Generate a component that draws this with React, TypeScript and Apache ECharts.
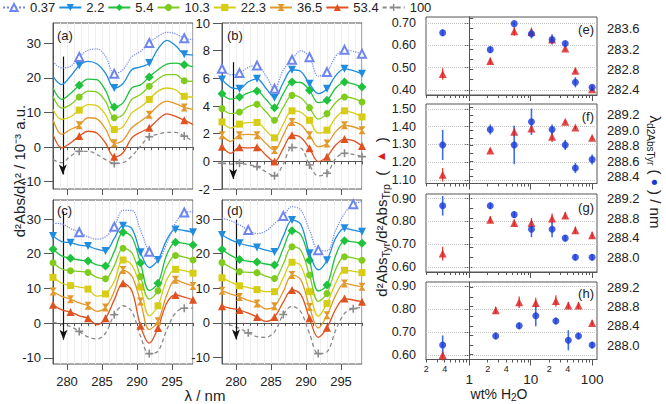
import React, { useEffect, useRef } from 'react';
import * as echarts from 'echarts';

const FONT = '"Liberation Sans", Arial, Helvetica, sans-serif';

const legendNames = ['0.37', '2.2', '5.4', '10.3', '22.3', '36.5', '53.4', '100'];
const wavelengthNm = [278, 279.25, 280.5, 281.75, 283, 284.25, 285.5, 286.75, 288, 289.25, 290.5, 291.75, 293, 294.25, 295.5, 296.75, 298];

const panelA = [
  [24.8, 22.9, 23.4, 26.1, 28.0, 28.4, 26.3, 21.2, 22.4, 26.1, 27.7, 30.1, 32.0, 33.2, 32.8, 31.5, 31.1],
  [20.5, 18.1, 20.5, 23.6, 24.8, 24.1, 21.4, 17.1, 18.4, 22.4, 23.2, 24.3, 28.4, 30.9, 29.4, 26.9, 26.7],
  [17.1, 13.8, 15.5, 17.9, 19.7, 19.5, 16.4, 11.6, 12.8, 17.1, 18.0, 20.3, 22.4, 24.0, 24.3, 23.8, 23.3],
  [14.7, 11.3, 12.3, 14.5, 16.2, 15.9, 13.3, 8.5, 9.4, 13.8, 15.2, 17.6, 19.7, 21.0, 21.0, 19.2, 19.0],
  [10.9, 8.0, 8.8, 10.7, 12.3, 12.0, 9.4, 5.1, 5.9, 9.9, 11.6, 13.8, 16.2, 17.1, 16.6, 14.7, 14.5],
  [8.0, 3.7, 5.1, 6.3, 8.5, 8.2, 5.3, 1.1, 2.0, 5.6, 7.5, 9.4, 12.0, 13.3, 12.6, 11.5, 10.9],
  [3.7, -0.2, 1.2, 3.2, 4.6, 4.1, 1.2, -2.8, -1.6, 2.7, 4.3, 5.6, 8.0, 9.6, 8.9, 7.8, 6.5],
  [-3.6, -4.5, -2.6, -1.2, -1.2, -2.1, -3.6, -4.7, -4.5, -2.6, 0.3, 3.0, 3.7, 4.3, 4.3, 3.2, 1.7],
];
const panelB = [
  [6.69, 6.25, 6.38, 6.80, 6.93, 6.20, 5.25, 6.60, 7.34, 8.00, 7.53, 6.15, 6.45, 7.60, 8.06, 7.95, 7.77],
  [5.92, 5.35, 5.25, 5.75, 5.97, 5.30, 4.60, 5.70, 6.62, 6.50, 5.61, 4.90, 5.25, 6.20, 6.69, 6.55, 6.33],
  [4.89, 4.50, 4.65, 4.95, 5.08, 4.50, 3.88, 4.90, 5.73, 5.70, 5.13, 4.25, 4.41, 5.30, 5.73, 5.60, 5.37],
  [3.81, 3.45, 3.57, 3.95, 4.12, 3.60, 2.97, 3.90, 4.77, 4.60, 3.88, 3.05, 3.45, 4.25, 4.65, 4.55, 4.29],
  [2.85, 2.40, 2.69, 2.80, 2.81, 2.25, 1.70, 2.70, 3.65, 3.55, 2.97, 2.05, 2.25, 3.15, 3.65, 3.50, 3.21],
  [1.89, 1.45, 1.89, 1.95, 1.89, 1.30, 0.82, 1.90, 2.85, 2.65, 1.89, 1.05, 1.29, 2.15, 2.61, 2.50, 2.25],
  [1.06, 0.58, 1.01, 0.98, 1.01, 0.46, -0.02, 0.94, 1.89, 1.73, 0.94, -0.02, 0.34, 1.18, 1.61, 1.49, 1.10],
  [-0.14, -0.20, -0.14, -0.25, -0.38, -0.75, -1.05, -0.20, 1.00, 0.95, -0.26, -1.05, -0.86, 0.20, 0.58, 0.50, 0.34],
];
const panelC = [
  [28.8, 28.6, 27.3, 26.2, 24.9, 24.2, 24.9, 27.8, 32.5, 32.5, 26.8, 20.6, 18.2, 23.0, 28.8, 31.9, 32.1],
  [25.1, 23.5, 23.2, 22.5, 22.2, 21.3, 20.8, 24.4, 28.1, 27.3, 20.4, 16.0, 18.2, 24.0, 27.0, 26.7, 26.2],
  [21.3, 19.4, 18.7, 18.2, 17.9, 16.8, 16.5, 20.6, 26.2, 24.9, 17.3, 9.4, 11.5, 19.7, 23.3, 23.0, 22.5],
  [17.4, 15.6, 15.1, 14.9, 14.6, 13.2, 12.8, 16.5, 21.6, 20.3, 13.4, 6.9, 9.3, 16.3, 19.5, 19.0, 18.2],
  [13.2, 11.5, 10.8, 10.4, 9.8, 7.8, 8.4, 12.0, 18.2, 16.8, 10.4, 2.1, 5.0, 12.5, 15.5, 15.1, 14.4],
  [9.1, 7.7, 6.9, 5.8, 5.0, 3.4, 4.5, 9.1, 15.3, 13.6, 6.2, -1.9, 0.5, 8.1, 12.5, 11.5, 10.7],
  [5.3, 3.8, 3.2, 2.1, 1.4, -0.5, 1.4, 6.7, 11.5, 9.4, -0.8, -5.8, -1.4, 5.8, 8.1, 7.5, 6.7],
  [0.2, -0.3, -1.0, -2.4, -4.0, -4.6, -2.9, 2.4, 5.0, 3.4, -3.8, -8.8, -8.1, -1.9, 2.9, 4.3, 4.3],
];
const panelD = [
  [30.2, 29.5, 28.3, 26.8, 25.8, 26.5, 28.7, 30.9, 33.6, 32.6, 26.8, 21.0, 20.8, 26.8, 31.6, 34.3, 35.0],
  [25.4, 24.0, 23.0, 22.3, 21.8, 21.0, 20.5, 25.0, 29.7, 28.5, 20.1, 15.3, 18.1, 24.5, 27.3, 26.8, 26.3],
  [21.2, 19.5, 18.3, 17.8, 17.6, 17.0, 16.7, 21.5, 26.6, 25.5, 18.1, 9.2, 10.9, 19.5, 23.7, 23.4, 23.0],
  [17.4, 16.0, 14.8, 14.6, 14.5, 13.5, 12.8, 17.0, 22.0, 21.0, 13.8, 6.2, 8.5, 15.5, 19.1, 18.8, 18.1],
  [13.0, 11.8, 10.7, 10.2, 9.6, 9.0, 9.0, 13.0, 17.5, 16.5, 9.0, 1.9, 5.6, 11.5, 15.2, 14.9, 14.5],
  [9.3, 8.3, 7.5, 6.5, 5.6, 4.0, 4.8, 9.0, 13.8, 12.5, 4.6, -1.5, 2.2, 8.0, 11.4, 10.9, 10.4],
  [4.8, 4.2, 3.7, 2.8, 1.7, 0.4, 1.7, 6.0, 9.5, 8.2, 1.3, -4.2, -1.4, 4.0, 7.0, 6.6, 6.1],
  [0.0, -0.7, -1.6, -2.9, -4.0, -4.2, -2.6, 2.4, 4.8, 3.2, -3.1, -8.9, -8.4, -2.1, 2.7, 4.1, 4.4],
];

const waterWt = [0.37, 2.2, 5.4, 10.3, 22.3, 36.5, 53.4, 100];
const waterWtH = [0.37, 2.7, 6.5, 12.1, 25.7, 41, 60, 100];

const ratioE = [0.472, 0.530, 0.663, 0.660, 0.626, 0.586, 0.487, 0.404];
const ratioEErr = [0.026, 0.015, 0.02, 0.02, 0.015, 0.01, 0.01, 0.008];
const lambdaE = [283.52, 283.19, 283.70, 283.50, 283.39, 283.31, 282.55, 282.45];
const lambdaEErr = [0.065, 0.06, 0.04, 0.09, 0.1, 0.04, 0.1, 0.04];

const ratioF = [1.129, 1.266, 1.372, 1.390, 1.344, 1.428, 1.395, 1.338];
const ratioFErr = [0.038, 0.01, 0.03, 0.03, 0.03, 0.01, 0.01, 0.01];
const lambdaF = [288.81, 289.01, 288.81, 289.11, 289.01, 288.81, 288.51, 288.62];
const lambdaFErr = [0.195, 0.065, 0.25, 0.17, 0.065, 0.065, 0.065, 0.065];

const ratioG = [0.658, 0.807, 0.793, 0.793, 0.812, 0.826, 0.761, 0.739];
const ratioGErr = [0.03, 0.015, 0.015, 0.022, 0.022, 0.015, 0.015, 0.015];
const lambdaG = [289.05, 289.05, 288.87, 288.57, 288.57, 288.39, 288.0, 288.0];
const lambdaGErr = [0.2, 0.065, 0.065, 0.16, 0.16, 0.065, 0.065, 0.065];

const ratioH = [0.60, 0.794, 0.829, 0.826, 0.834, 0.815, 0.815, 0.739];
const ratioHErr = [0.024, 0.015, 0.025, 0.022, 0.025, 0.015, 0.015, 0.012];
const lambdaH = [288.0, 288.19, 288.40, 288.61, 288.50, 288.10, 288.19, 288.0];
const lambdaHErr = [0.2, 0.07, 0.07, 0.22, 0.07, 0.21, 0.07, 0.07];

const specTickLabels = [280, 285, 290, 295];
const leftPanelYTicks = [-10, 0, 10, 20, 30];
const logLabelWt = [0.2, 0.4, 1, 2, 4, 10, 20, 40, 100];
const logLabelText = ['2', '4', '1', '2', '4', '10', '2', '4', '100'];
const logMinorWt = [0.2, 0.3, 0.4, 0.5, 0.6, 0.7, 0.8, 0.9, 2, 3, 4, 5, 6, 7, 8, 9, 20, 30, 40, 50, 60, 70, 80, 90];
const logMajorWt = [1, 10, 100];
const ratioTicks = [[0.4, 0.5, 0.6, 0.7], [1.1, 1.2, 1.3, 1.4, 1.5], [0.6, 0.7, 0.8, 0.9], [0.6, 0.7, 0.8, 0.9]];
const lambdaLabels = [[282.4, 282.8, 283.2, 283.6], [288.4, 288.6, 288.8, 289.0, 289.2], [288.0, 288.4, 288.8, 289.2], [288.0, 288.4, 288.8, 289.2]];
const lambdaTicks = [
  [282.4, 282.6, 282.8, 283.0, 283.2, 283.4, 283.6, 283.8],
  [288.4, 288.5, 288.6, 288.7, 288.8, 288.9, 289.0, 289.1, 289.2, 289.3],
  [287.8, 288.0, 288.2, 288.4, 288.6, 288.8, 289.0, 289.2],
  [287.8, 288.0, 288.2, 288.4, 288.6, 288.8, 289.0, 289.2],
];

const lineColors = ['#6f86f0', '#1f8ce0', '#1fc23c', '#80cc1e', '#d6cd14', '#e2992a', '#e0511f', '#8a8a8a'];
const symbols = ['emptyTriangle', 'triangle', 'diamond', 'circle', 'rect', 'path://M0,0H10L6,5L10,10H0L4,5Z', 'triangle', 'path://M4,0H6V4H10V6H6V10H4V6H0V4H4Z'];
const symbolSizes: any[] = [8, 8, 9, 7, 7, [7, 8], 8, 8];
const symbolRotates = [0, 180, 0, 0, 0, 0, 0, 0];

const AX = '#555';
const TXT = '#222';
const LOG_MIN = Math.log10(0.2) - 0.004;
const LOG_MAX = Math.log10(120);

function buildGraphic(logLabels: any[]) {
  const txt = (text: string, x: number, y: number, align = 'left', size = 13) => ({
    type: 'text', x, y, silent: true, z: 100,
    style: { text, fontSize: size, fontFamily: FONT, fill: TXT, align, verticalAlign: 'middle' },
  });
  return [
    txt('(a)', 57, 35), txt('(b)', 227, 35), txt('(c)', 57, 210), txt('(d)', 227, 210),
    txt('(e)', 594, 29, 'right'), txt('(f)', 594, 116, 'right'), txt('(g)', 594, 207, 'right'), txt('(h)', 594, 293, 'right'),
    txt('λ / nm', 205, 395, 'center', 15),
    {
      type: 'text', x: 499, y: 394, silent: true,
      style: {
        text: '{n|wt% H}{s|2}{n|O}', align: 'center', verticalAlign: 'middle',
        rich: {
          n: { fontSize: 14, fontFamily: FONT, fill: TXT, lineHeight: 16 },
          s: { fontSize: 10, fontFamily: FONT, fill: TXT, lineHeight: 10, verticalAlign: 'bottom' },
        },
      },
    },
    {
      type: 'text', x: 19, y: 171, rotation: Math.PI / 2, silent: true,
      style: { text: 'd²Abs/dλ² / 10⁻³ a.u.', fontSize: 15, fontFamily: FONT, fill: TXT, align: 'center', verticalAlign: 'middle' },
    },
    {
      type: 'text', x: 381, y: 217, rotation: Math.PI / 2, silent: true,
      style: {
        text: '{n|d²Abs}{s|Tyr}{n|/d²Abs}{s|Trp}{n|  (  }{r|▲}{n|  )}', align: 'center', verticalAlign: 'middle',
        rich: {
          n: { fontSize: 15, fontFamily: FONT, fill: TXT, lineHeight: 20 },
          s: { fontSize: 10.5, fontFamily: FONT, fill: TXT, lineHeight: 12, verticalAlign: 'bottom' },
          r: { fontSize: 12, fontFamily: FONT, fill: '#dd1d1d', lineHeight: 20 },
        },
      },
    },
    {
      type: 'text', x: 655, y: 172, rotation: -Math.PI / 2, silent: true,
      style: {
        text: '{n|λ}{s|d2AbsTyr}{n| ( }{b|●}{n| ) / nm}', align: 'center', verticalAlign: 'middle',
        rich: {
          n: { fontSize: 15, fontFamily: FONT, fill: TXT, lineHeight: 20 },
          s: { fontSize: 10, fontFamily: FONT, fill: TXT, lineHeight: 12, verticalAlign: 'bottom' },
          b: { fontSize: 12, fontFamily: FONT, fill: '#1738d8', lineHeight: 20 },
        },
      },
    },
    ...logLabels,
  ];
}

function buildOption() {
  const leftGrids = [
    { left: 53, top: 23, width: 140, height: 166 },
    { left: 222, top: 23, width: 140, height: 166 },
    { left: 53, top: 200, width: 140, height: 164 },
    { left: 222, top: 200, width: 140, height: 164 },
  ];
  const rightGrids = [
    { left: 426, top: 17, width: 171, height: 78 },
    { left: 426, top: 104, width: 171, height: 79.5 },
    { left: 426, top: 194, width: 171, height: 78 },
    { left: 426, top: 282, width: 171, height: 77.5 },
  ];
  const leftY = [[-12.1, 35.9], [-2, 10], [-11.8, 35.5], [-11.9, 35.5]];
  const ratioRange = [[0.378, 0.727], [1.08, 1.528], [0.577, 0.92], [0.58, 0.917]];
  const lambdaRange = [[282.30, 283.83], [288.31, 289.34], [287.70, 289.29], [287.70, 289.31]];
  const arrows = [[279.4, 26.2, -7.9], [279.6, 7.17, -1.27], [279.5, 32.2, -4.8], [280.0, 29.8, -4.8]];
  const panels = [panelA, panelB, panelC, panelD];

  const grid = [...leftGrids, ...rightGrids].map((g) => ({ ...g, show: true, borderColor: AX, borderWidth: 1, containLabel: false }));
  const xAxis: any[] = [];
  const yAxis: any[] = [];
  const series: any[] = [];

  for (let p = 0; p < 4; p++) {
    xAxis.push({
      gridIndex: p, type: 'value', min: 278, max: 298, interval: 1, position: 'bottom',
      axisLine: { show: true, lineStyle: { color: AX } },
      axisTick: { show: true, length: 3, lineStyle: { color: AX } },
      axisLabel: { show: p >= 2, customValues: specTickLabels, fontSize: 13, color: TXT, margin: 11, fontFamily: FONT },
      splitLine: { show: true, lineStyle: { color: '#eeeeee', width: 1 } },
    });
    xAxis.push({
      gridIndex: p, type: 'value', min: 278, max: 298, position: 'bottom',
      axisLine: { show: false },
      axisTick: { show: true, length: 6, customValues: specTickLabels, lineStyle: { color: AX } },
      axisLabel: { show: false }, splitLine: { show: false },
    });
    const yCfg: any = {
      gridIndex: p, type: 'value', min: leftY[p][0], max: leftY[p][1], position: 'left',
      axisLine: { show: true, lineStyle: { color: AX } },
      axisTick: { show: true, length: 9, lineStyle: { color: AX } },
      axisLabel: { fontSize: 13, color: TXT, margin: 12, fontFamily: FONT },
      splitLine: { show: false },
    };
    if (p === 1) {
      yCfg.interval = 2;
    } else {
      yCfg.axisTick.customValues = leftPanelYTicks;
      yCfg.axisLabel.customValues = leftPanelYTicks;
    }
    yAxis.push(yCfg);

    const curves = panels[p];
    for (let s = 0; s < 8; s++) {
      let marks: number[];
      if (p === 0 || ((p === 2 || p === 3) && (s === 0 || s === 7))) marks = [3, 7, 11, 15];
      else marks = [0, 2, 4, 6, 8, 10, 12, 14, 16];
      const data = wavelengthNm.map((x, i) => (marks.indexOf(i) >= 0 ? [x, curves[s][i]] : { value: [x, curves[s][i]], symbol: 'none' }));
      const ser: any = {
        type: 'line', name: legendNames[s], xAxisIndex: 2 * p, yAxisIndex: p,
        data, smooth: 0.35, symbol: symbols[s], symbolSize: symbolSizes[s], symbolRotate: symbolRotates[s],
        symbolKeepAspect: true, showSymbol: true,
        lineStyle: { color: lineColors[s], width: s === 0 ? 1.2 : 1.3, type: s === 0 ? 'dotted' : s === 7 ? [4, 3] : 'solid' },
        itemStyle: { color: lineColors[s], borderColor: lineColors[s], borderWidth: s === 0 ? 1 : 0 },
        z: 3 + (8 - s),
        silent: true,
      };
      if (s === 7) {
        const a = arrows[p];
        ser.markLine = {
          silent: true, symbol: ['none', 'arrow'], symbolSize: [6, 10], animation: false,
          lineStyle: { color: '#111', width: 1.2, type: 'solid' }, label: { show: false },
          data: [[{ coord: [a[0], a[1]] }, { coord: [a[0], a[2]] }]],
        };
      }
      series.push(ser);
    }
  }

  const rightSets = [
    [waterWt, ratioE, ratioEErr, lambdaE, lambdaEErr],
    [waterWt, ratioF, ratioFErr, lambdaF, lambdaFErr],
    [waterWt, ratioG, ratioGErr, lambdaG, lambdaGErr],
    [waterWtH, ratioH, ratioHErr, lambdaH, lambdaHErr],
  ];

  for (let q = 0; q < 4; q++) {
    const gi = 4 + q;
    xAxis.push({
      gridIndex: gi, type: 'value', min: LOG_MIN, max: LOG_MAX, position: 'bottom',
      axisLine: { show: true, lineStyle: { color: AX } },
      axisTick: { show: true, length: 3, customValues: logMinorWt.map(Math.log10), lineStyle: { color: AX } },
      axisLabel: { show: false },
      splitLine: { show: false },
    });
    xAxis.push({
      gridIndex: gi, type: 'value', min: LOG_MIN, max: LOG_MAX, position: 'bottom',
      axisLine: { show: false },
      axisTick: { show: true, length: 6, customValues: logMajorWt.map(Math.log10), lineStyle: { color: AX } },
      axisLabel: { show: false }, splitLine: { show: false },
    });
    yAxis.push({
      gridIndex: gi, type: 'value', min: ratioRange[q][0], max: ratioRange[q][1], position: 'left',
      axisLine: { show: true, lineStyle: { color: AX } },
      axisTick: { show: true, length: 4, customValues: ratioTicks[q], lineStyle: { color: AX } },
      axisLabel: { customValues: ratioTicks[q], formatter: (v: number) => v.toFixed(2), fontSize: 12.5, color: TXT, margin: 10, fontFamily: FONT },
      splitLine: { show: false },
    });
    yAxis.push({
      gridIndex: gi, type: 'value', min: lambdaRange[q][0], max: lambdaRange[q][1], position: 'right',
      axisLine: { show: true, lineStyle: { color: AX } },
      axisTick: { show: true, length: 4, customValues: lambdaTicks[q], lineStyle: { color: AX } },
      axisLabel: { customValues: lambdaLabels[q], formatter: (v: number) => v.toFixed(1), fontSize: 13, color: TXT, margin: 10, fontFamily: FONT },
      splitLine: { show: false },
    });
    const [wx, rv, re, lv, le] = rightSets[q] as number[][];
    const xi = 8 + 2 * q;
    const yl = 4 + 2 * q;
    const yr = 5 + 2 * q;
    const errSeries = (vals: number[], errs: number[], yIdx: number, color: string, w: number) => ({
      type: 'custom', xAxisIndex: xi, yAxisIndex: yIdx, silent: true, z: 2,
      data: wx.map((x, i) => [Math.log10(x), vals[i] - errs[i], vals[i] + errs[i]]),
      encode: { x: 0, y: [1, 2] },
      renderItem: (params: any, api: any) => {
        const a = api.coord([api.value(0), api.value(1)]);
        const b = api.coord([api.value(0), api.value(2)]);
        return { type: 'line', shape: { x1: a[0], y1: a[1], x2: b[0], y2: b[1] }, style: { stroke: color, lineWidth: w } };
      },
    });
    series.push(errSeries(rv, re, yl, '#e3362e', 1.2));
    series.push(errSeries(lv, le, yr, '#3f6fe6', 1.6));
    series.push({
      type: 'scatter', name: 'ratio' + q, xAxisIndex: xi, yAxisIndex: yl, silent: true, z: 4,
      symbol: 'triangle', symbolSize: 8, itemStyle: { color: '#dd1d1d' },
      data: wx.map((x, i) => [Math.log10(x), rv[i]]),
      markLine: {
        silent: true, symbol: 'none', animation: false, label: { show: false }, z: 1,
        lineStyle: { color: '#c4c4c4', width: 1, type: 'dotted' },
        data: ratioTicks[q].map((v) => ({ yAxis: v })),
      },
    });
    series.push({
      type: 'scatter', name: 'lambda' + q, xAxisIndex: xi, yAxisIndex: yr, silent: true, z: 5,
      symbol: 'circle', symbolSize: 7, itemStyle: { color: '#1738d8' },
      data: wx.map((x, i) => [Math.log10(x), lv[i]]),
    });
  }

  return {
    animation: false,
    textStyle: { fontFamily: FONT },
    legend: {
      data: legendNames, left: 0, top: 0, itemWidth: 22, itemHeight: 9, itemGap: 3, padding: [1, 2, 1, 2],
      selectedMode: false, textStyle: { fontSize: 13, color: TXT, fontFamily: FONT },
    },
    grid, xAxis, yAxis, series, graphic: buildGraphic([]),
  };
}

export default function App() {
  const ref = useRef<HTMLDivElement>(null);
  useEffect(() => {
    if (!ref.current) return;
    const chart = echarts.init(ref.current, undefined, { renderer: 'svg' });
    chart.setOption(buildOption() as any);
    // tick labels of the bottom log axis (panel h), positioned through the axis scale
    const axisY = chart.convertToPixel({ yAxisIndex: 10 }, 0.58) as number;
    const logLabels = logLabelWt.map((w, i) => {
      const px = chart.convertToPixel({ xAxisIndex: 14 }, Math.log10(w)) as number;
      const big = logLabelText[i].charAt(0) === '1';
      return {
        type: 'text', x: px, y: axisY + (big ? 19.5 : 9), silent: true, z: 200,
        style: { text: logLabelText[i], fontSize: big ? 13.5 : 9, fontFamily: FONT, fill: TXT, align: 'center', verticalAlign: 'middle' },
      };
    });
    chart.setOption({ graphic: buildGraphic(logLabels) } as any);
    return () => chart.dispose();
  }, []);
  return <div ref={ref} style={{ position: 'fixed', left: 0, top: 0, width: 666, height: 404, background: '#fff' }} />;
}
